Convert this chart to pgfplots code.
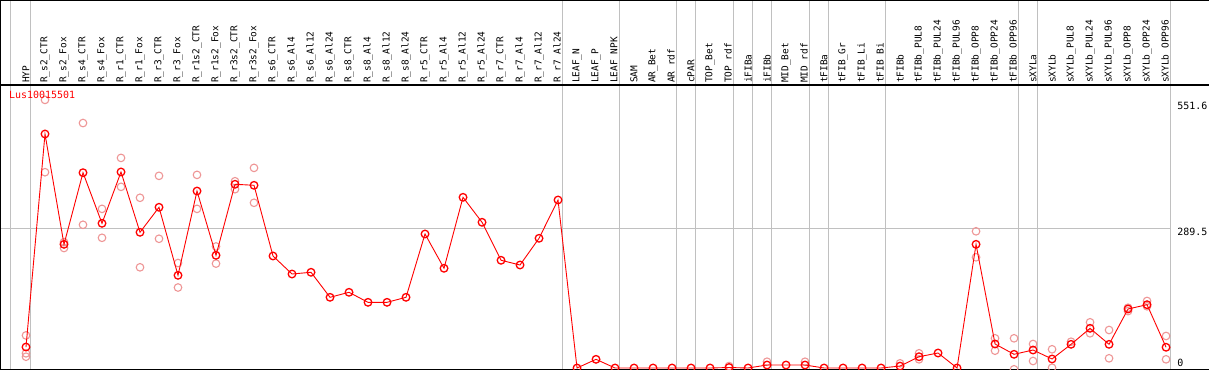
\documentclass[border=0pt]{standalone}
\usepackage{pgfplots}
\pgfplotsset{compat=1.18}
\usepackage{pgfplotstable}
\usepackage{fontspec}
\setmainfont{DejaVu Sans Mono}
\definecolor{gridgrey}{RGB}{192,192,192}
\definecolor{reppink}{RGB}{238,150,150}
\definecolor{linered}{RGB}{255,0,0}

\pgfplotstableread{
x y
1 43.5
2 485.3
3 256.5
4 405
5 300
6 406.5
7 281.4
8 333.3
9 192.2
10 367
11 233.7
12 381
13 378.9
14 232.3
15 194.9
16 198.5
17 146.6
18 157
19 136.2
20 136.2
21 146.6
22 277.9
23 206.8
24 354
25 302.2
26 223.4
27 213.6
28 269
29 348.4
30 0
31 18
32 0
33 0
34 0
35 0
36 0
37 0
38 1
39 0
40 6.2
41 6.2
42 6.2
43 0
44 0
45 0
46 0
47 4
48 23.4
49 31.1
50 0
51 256.5
52 49.8
53 28.4
54 37.3
55 18.7
56 49.1
57 82.3
58 49.1
59 122.4
60 131.3
61 43
}\means

\pgfplotstableread{
x y
1 67.6
1 30.4
1 23.4
2 556
2 406
3 261
3 248.8
4 508
4 297
5 330
5 270
6 435.7
6 375.7
7 353
7 208.8
8 398.5
8 268
9 217.7
9 166.9
10 400.5
10 330
11 252
11 216.5
12 387.3
12 370.8
13 415
13 342.6
38 4
40 13
42 13
47 9.7
48 30.5
48 18
51 283.5
51 229.6
52 61.6
52 35.9
53 61.6
53 -2.7
54 49.8
54 14.5
55 38.8
55 0.6
56 54.5
57 94.8
57 72
58 78.8
58 20.1
59 125
59 118
60 139
60 128
61 66.4
61 18
}\reps

\begin{document}
\begin{tikzpicture}
\begin{axis}[
  at={(0,0)}, anchor=south west,
  scale only axis,
  width=1209bp, height=285bp,
  xmin=-0.3684, xmax=63.263,
  ymin=-4.148, ymax=586.9,
  axis line style={draw=none},
  xtick={1,...,61},
  xtick style={draw=none},
  ytick=\empty,
  xticklabel pos=upper,
  xticklabels={HYP,R\_s2\_CTR,R\_s2\_Fox,R\_s4\_CTR,R\_s4\_Fox,R\_r1\_CTR,R\_r1\_Fox,R\_r3\_CTR,R\_r3\_Fox,R\_r1s2\_CTR,R\_r1s2\_Fox,R\_r3s2\_CTR,R\_r3s2\_Fox,R\_s6\_CTR,R\_s6\_Al4,R\_s6\_Al12,R\_s6\_Al24,R\_s8\_CTR,R\_s8\_Al4,R\_s8\_Al12,R\_s8\_Al24,R\_r5\_CTR,R\_r5\_Al4,R\_r5\_Al12,R\_r5\_Al24,R\_r7\_CTR,R\_r7\_Al4,R\_r7\_Al12,R\_r7\_Al24,LEAF\_N,LEAF\_P,LEAF\_NPK,SAM,AR\_Bet,AR\_rdf,cPAR,TOP\_Bet,TOP\_rdf,iFIBa,iFIBb,MID\_Bet,MID\_rdf,tFIBa,tFIB\_Gr,tFIB\_Li,tFIB\_Bi,tFIBb,tFIBb\_PUL8,tFIBb\_PUL24,tFIBb\_PUL96,tFIBb\_OPP8,tFIBb\_OPP24,tFIBb\_OPP96,sXYLa,sXYLb,sXYLb\_PUL8,sXYLb\_PUL24,sXYLb\_PUL96,sXYLb\_OPP8,sXYLb\_OPP24,sXYLb\_OPP96},
  xticklabel style={rotate=90, anchor=west, inner sep=0pt, font=\fontsize{9.5}{10}\selectfont},
  xticklabel shift=2bp,
  clip mode=individual,
  clip marker paths=true,
]
% grid lines
\pgfplotsinvokeforeach{0,1,29,32,35,36,38,39,40,42,43,46,53,54,61}{
  \draw[gridgrey, line width=1bp] (axis cs:#1+0.2105,-4.148) -- (axis cs:#1+0.2105,763.2);
}
\draw[gridgrey, line width=1bp] (axis cs:-0.3684,289.5) -- (axis cs:61.2105,289.5);
% frame
\draw[black, line width=1.2bp] (axis cs:-0.3684,586.9) -- (axis cs:63.263,586.9);
\draw[black, line width=2bp] (axis cs:-0.3684,-4.148) -- (axis cs:63.263,-4.148);
\draw[black, line width=2bp] (axis cs:-0.3684,763.2) -- (axis cs:63.263,763.2);
\draw[black, line width=2bp] (axis cs:-0.3684,-4.148) -- (axis cs:-0.3684,763.2);
% replicates
\addplot[only marks, mark=o, mark size=3.8bp, mark options={reppink, line width=1.1bp}] table[x=x,y=y] {\reps};
% means
\addplot[linered, line width=0.9bp, mark=o, mark size=3.8bp, mark options={linered, line width=1.3bp, solid}] table[x=x,y=y] {\means};
% texts
\node[anchor=north west, inner sep=0pt, text=linered, font=\fontsize{10}{11}\selectfont] at (axis cs:0.105,574.4) {Lus10015501};
\node[anchor=north west, inner sep=0pt, font=\fontsize{10}{11}\selectfont] at (axis cs:61.58,551.6) {551.6};
\node[anchor=north west, inner sep=0pt, font=\fontsize{10}{11}\selectfont] at (axis cs:61.58,289.5) {289.5};
\node[anchor=south west, inner sep=0pt, font=\fontsize{10}{11}\selectfont] at (axis cs:61.58,2.07) {0};
\end{axis}
\pgfresetboundingbox
\useasboundingbox (0,0) rectangle (1209bp,370bp);
\end{tikzpicture}
\end{document}
